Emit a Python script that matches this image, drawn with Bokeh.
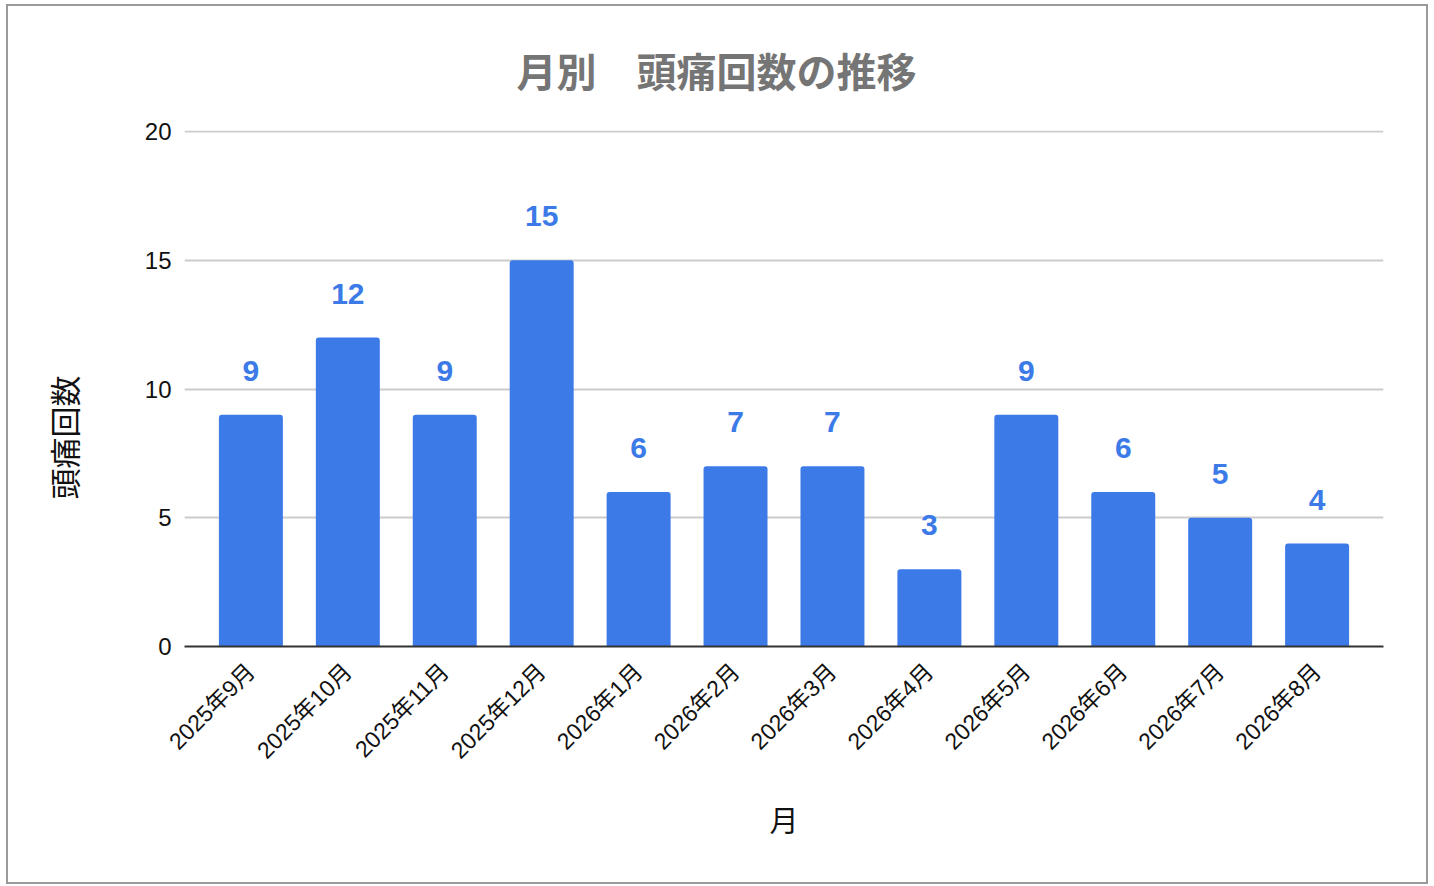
from bokeh.plotting import figure
from bokeh.models import (ColumnDataSource, FactorRange, Range1d, LabelSet,
                          SingleIntervalTicker, Title)
from bokeh.core.properties import value
from bokeh.embed import file_html
from bokeh.resources import INLINE
from math import pi

# ---- data ----
months = ["2025年9月", "2025年10月", "2025年11月", "2025年12月",
          "2026年1月", "2026年2月", "2026年3月", "2026年4月",
          "2026年5月", "2026年6月", "2026年7月", "2026年8月"]
counts = [9, 12, 9, 15, 6, 7, 7, 3, 9, 6, 5, 4]
labels = [str(c) for c in counts]

title_text = "月別　頭痛回数の推移"
x_title = "月"
y_title = "頭痛回数"

BAR = "#3c7ae8"
LATIN = "'Liberation Sans', 'Noto Sans CJK JP'"
CJK = "'Noto Sans CJK JP'"

source = ColumnDataSource(dict(month=months, count=counts, label=labels))

p = figure(width=1418, height=876, output_backend="svg", toolbar_location=None,
           x_range=FactorRange(factors=months, range_padding=0.185,
                               range_padding_units="absolute"),
           y_range=Range1d(0, 20.04))
p.min_border_left = 176
p.min_border_right = 47
p.min_border_top = 124
p.min_border_bottom = 240
p.outline_line_color = None
p.background_fill_color = "white"
p.border_fill_color = "white"
p.styles = {"border": "2px solid #9a9a9a", "box-sizing": "content-box",
            "margin-left": "6px", "margin-top": "4px"}

t = Title(text=title_text, align="left", offset=332, standoff=64,
          text_font=CJK, text_font_size="40px", text_font_style="bold",
          text_color="#757575")
p.add_layout(t, "above")

p.vbar(x="month", top="count", width=0.66, source=source,
       fill_color=BAR, line_color=None, border_radius=(3, 3, 0, 0))

p.add_layout(LabelSet(x="month", y="count", text="label", source=source,
                      y_offset=34, text_align="center",
                      text_baseline="alphabetic",
                      text_font=value("Liberation Sans"), text_font_style="bold",
                      text_font_size="30px", text_color=BAR))

# y axis
p.yaxis.ticker = SingleIntervalTicker(interval=5)
p.yaxis.axis_line_color = None
p.yaxis.major_tick_line_color = None
p.yaxis.major_tick_out = 0
p.yaxis.major_tick_in = 0
p.yaxis.minor_tick_line_color = None
p.yaxis.major_label_standoff = 9
p.yaxis.major_label_text_font = LATIN
p.yaxis.major_label_text_font_size = "24px"
p.yaxis.major_label_text_color = "#111111"

# empty spacer between the tick labels and the y title
p.add_layout(Title(text=" ", text_font_size="1px", standoff=23), "left")

# y axis title, placed as a side title so it can sit lower than the frame centre
yt = Title(text=y_title, align="left", offset=147, standoff=60,
           text_font=CJK, text_font_size="31px", text_font_style="normal",
           text_color="#111111")
p.add_layout(yt, "left")

# x axis
p.xaxis.axis_line_color = "#333333"
p.xaxis.axis_line_width = 2
p.xaxis.major_tick_line_color = None
p.xaxis.major_tick_out = 0
p.xaxis.major_tick_in = 0
p.xaxis.minor_tick_line_color = None
p.xaxis.major_label_orientation = pi / 4
p.xaxis.major_label_standoff = 21
p.xaxis.major_label_text_font = LATIN
p.xaxis.major_label_text_font_size = "23px"
p.xaxis.major_label_text_color = "#111111"
p.xaxis.axis_label = x_title
p.xaxis.axis_label_text_font = CJK
p.xaxis.axis_label_text_font_size = "29px"
p.xaxis.axis_label_text_font_style = "normal"
p.xaxis.axis_label_text_color = "#111111"
p.xaxis.axis_label_standoff = 22

p.xgrid.grid_line_color = None
p.ygrid.grid_line_color = "#cccccc"
p.ygrid.grid_line_width = 2

open("out.html", "w").write(file_html(p, INLINE))
